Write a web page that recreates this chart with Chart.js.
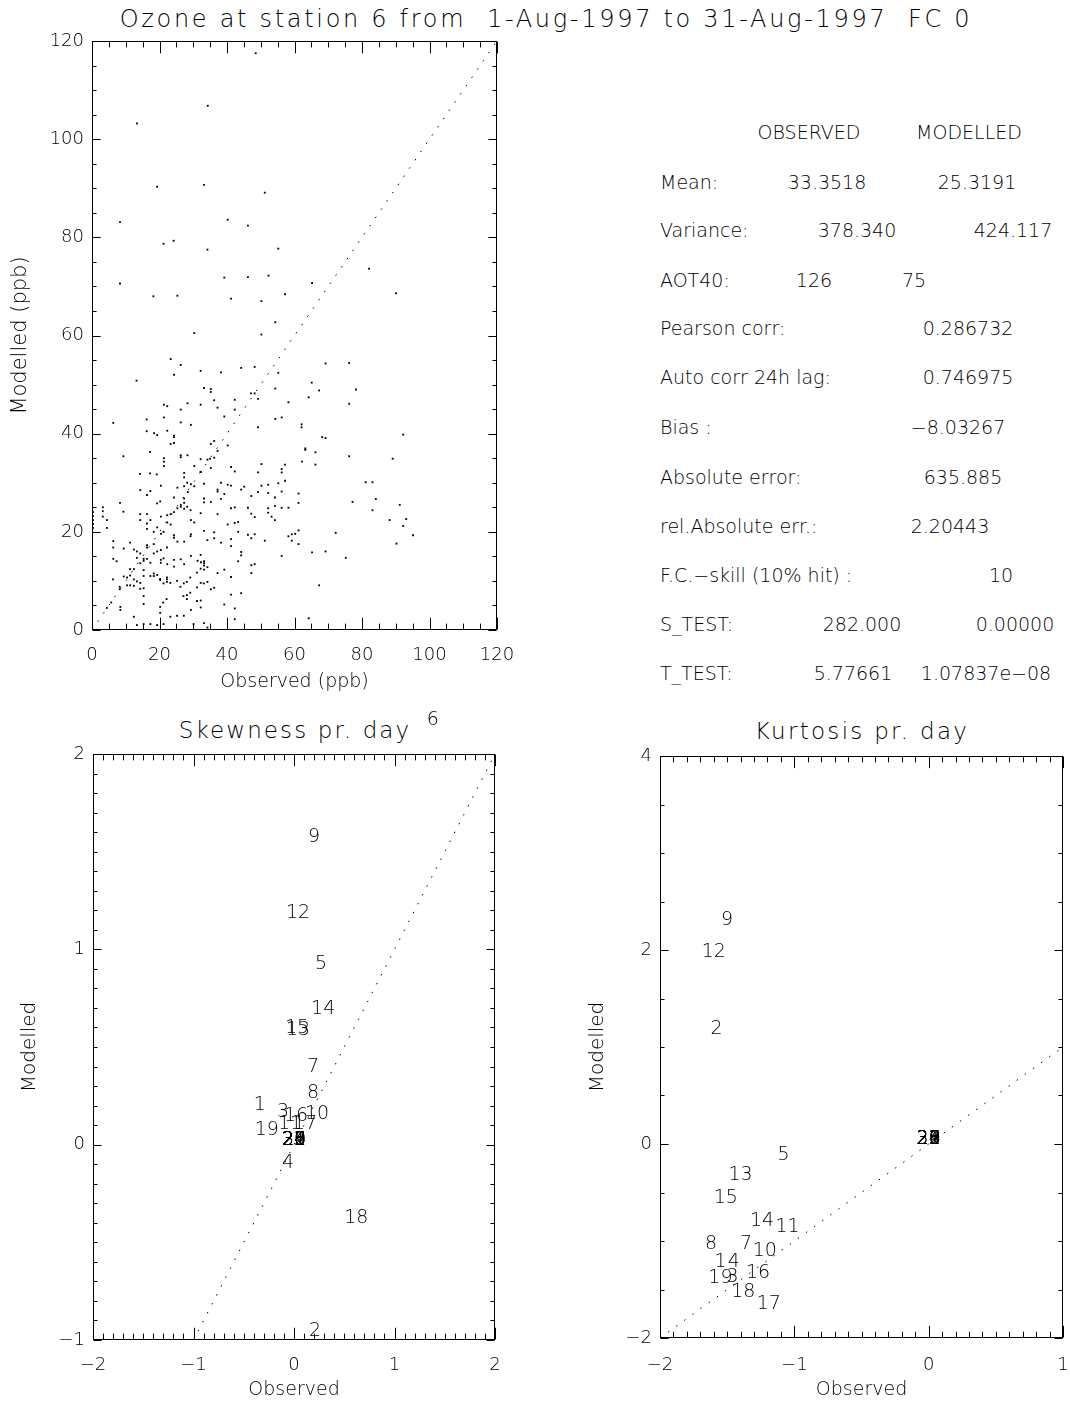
<!DOCTYPE html>
<html>
<head>
<meta charset="utf-8">
<script src="https://cdn.jsdelivr.net/npm/chart.js@4.4.0/dist/chart.umd.min.js"></script>
<style>
  body { margin: 0; background: #fff; width: 1070px; height: 1401px; position: relative; overflow: hidden;
         font-family: "DejaVu Sans", sans-serif; font-weight: 200; color: #000; }
  canvas { position: absolute; }
  .c { position: absolute; white-space: pre; line-height: 1; transform: translate(-50%, -50%); }
  .l { position: absolute; white-space: pre; line-height: 1; transform: translateY(-50%); }
</style>
</head>
<body>
<div class="c" id="mainTitle" style="left:546px;top:19px;font-size:24px;letter-spacing:2.7px">Ozone at station 6 from  1-Aug-1997 to 31-Aug-1997  FC 0</div>
<div class="c" style="left:295px;top:730px;font-size:23px;letter-spacing:2.1px">Skewness pr. day</div>
<div class="c" style="left:862px;top:731px;font-size:23px;letter-spacing:2.3px">Kurtosis pr. day</div>
<div id="stats"></div>

<canvas id="scatterChart" width="540" height="700" style="left:0;top:0"></canvas>
<canvas id="skewChart" width="540" height="701" style="left:0;top:700px"></canvas>
<canvas id="kurtChart" width="560" height="701" style="left:540px;top:700px"></canvas>

<script>
// hourly ozone, observed vs modelled (ppb)
const observedPpb = [
  48.5, 13.3, 34.3, 19.3, 33.2, 51.2, 8.3, 40.2, 46.2, 21.2, 24.2, 34.2, 55.2, 82.1, 8.3, 39.2, 46.2, 52.3, 65.2, 18.2,
  25.3, 41.2, 57.2, 50.2, 90.1, 54.3,
  30.3, 23.3, 26.3, 32.2, 24.3, 13.2, 33.2, 21.3, 22.3, 28.3, 32.2, 26.3, 16.2, 21.3, 6.3, 26.3, 29.3, 16.2, 18.4, 19.3,
  22.3, 24.3, 24.3, 24.3, 23.3, 17.2, 9.3, 21.3, 21.3, 26.3, 26.3, 28.3, 32.2, 21.3, 30.3, 14.2, 17.2, 19.2, 27.3, 32.2,
  50.2, 38.2, 44.2, 48.2, 55.2, 65.1, 67.3, 35.2, 35.2, 47.1, 48.2, 54.3, 64.2, 36.2, 42.3, 49.2, 58.2, 37.2, 42.3, 39.2,
  54.3, 56.2, 49.2, 62.1, 62.1, 36.2, 35.2, 40.2, 37.2, 36.2, 34.2, 35.0, 35.2, 41.2, 42.3, 49.2, 50.2, 56.2, 56.2, 57.2,
  62.2, 63.2, 63.2, 66.2, 66.2,
  69.2, 76.2, 78.2, 76.2, 92.2, 68.2, 69.2, 76.2, 89.1,
  81.1, 83.1, 84.1, 77.2, 91.2, 83.1, 88.2, 93.1, 92.2, 72.2, 95.1, 90.2, 69.2, 75.2, 67.3,
  32.2, 33.2, 38.2, 40.2, 41.2, 45.1, 50.2, 52.2, 55.2, 57.2,
  37.2, 37.2, 39.2, 44.2, 49.2, 52.2, 56.2, 61.2, 33.2, 33.2,
  35.2, 38.2, 47.2, 54.2, 61.2, 32.2, 37.2, 41.2, 42.3, 46.2,
  47.2, 48.2, 52.2, 52.2, 54.2, 56.2, 58.2, 53.2, 54.2, 40.2,
  42.3, 43.3, 33.2, 36.2, 43.3, 46.2, 48.2, 47.2, 36.2, 34.2,
  41.2, 38.2, 51.2, 58.2, 59.2, 60.2, 61.2, 59.2, 61.2, 41.2,
  44.2, 44.2, 32.2, 43.3, 47.2, 48.2, 56.2, 33.2, 33.2, 33.2,
  34.2, 32.2, 33.2, 39.2, 37.2, 47.2, 41.2, 65.2, 32.2, 34.2,
  35.2, 36.2, 41.2, 44.2, 32.2, 32.2, 39.2, 42.3, 42.3, 33.2,
  34.2, 64.2,
  27.3, 28.2, 29.3, 30.3, 14.3, 17.3, 16.3, 20.4, 25.3, 27.3,
  28.4, 24.3, 27.3, 8.3, 19.3, 20.2, 3.2, 3.2, 3.2, 4.4,
  4.4, 9.3, 14.3, 16.3, 14.3, 16.3, 17.3, 20.4, 22.3, 23.3,
  24.3, 25.3, 26.3, 27.3, 26.3, 27.3, 28.2, 29.2, 29.3, 30.3,
  19.3, 18.3, 16.3, 21.2, 20.4, 23.3, 22.3, 24.3, 24.3, 29.3,
  25.3, 27.3, 29.2, 6.3, 6.3, 7.3, 6.3, 11.3, 9.4, 12.4,
  13.3, 14.3, 13.3, 15.3, 16.3, 16.3, 18.3, 16.3, 14.3, 18.3,
  19.3, 20.4, 21.2, 22.2, 15.3, 17.3, 15.3, 12.4, 11.3, 20.4,
  20.4, 22.3, 24.3, 26.3, 24.3, 27.3, 29.3, 31.3, 32.3, 9.4,
  10.4, 11.3, 12.4, 13.3, 14.3, 15.3, 17.3, 19.3, 20.2, 22.2,
  6.2, 8.2, 8.2, 10.4, 11.3, 12.4, 14.3, 15.3, 15.3, 18.3,
  18.3, 20.2, 21.2, 22.2, 22.2, 23.2, 25.2, 26.2, 27.2, 28.1,
  29.1, 31.1, 33.1, 31.1, 28.1, 29.1, 22.1, 21.1, 20.2, 15.3,
  8.4, 8.4, 4.4, 5.7, 27.1, 28.1, 25.2, 23.2, 20.2, 31.1,
  12.4, 13.3, 17.3, 19.3, 15.3, 21.2, 30.1, 27.2, 29.3, 0.3,
  0.3, 0.3, 0.3, 0.3
];
const modelledPpb = [
  117.5, 103.2, 106.8, 90.3, 90.7, 89.1, 83.1, 83.6, 82.4, 78.7, 79.3, 77.5, 77.7, 73.6, 70.6, 71.8, 71.9, 72.2, 70.7, 68.0,
  68.1, 67.5, 68.4, 67.0, 68.6, 62.7,
  60.5, 55.2, 54.0, 52.8, 52.0, 50.8, 49.3, 45.9, 45.6, 46.2, 45.9, 44.9, 42.9, 43.3, 42.2, 42.3, 41.8, 40.5, 40.1, 39.7,
  40.6, 39.6, 39.3, 38.1, 37.9, 36.3, 35.4, 35.0, 34.3, 35.6, 35.2, 35.6, 34.8, 33.4, 33.4, 31.8, 31.9, 31.7, 32.0, 32.2,
  60.2, 52.5, 53.4, 53.6, 52.4, 50.4, 48.8, 49.1, 48.5, 48.2, 48.2, 49.2, 47.4, 46.8, 46.9, 47.1, 46.4, 45.3, 44.9, 43.5,
  43.0, 43.3, 41.3, 41.9, 41.3, 38.5, 37.9, 37.6, 36.5, 35.1, 34.7, 34.9, 33.0, 33.2, 32.3, 32.1, 33.8, 32.8, 32.1, 33.7,
  34.3, 37.0, 36.7, 36.2, 33.7,
  54.3, 54.4, 49.0, 46.1, 39.8, 39.3, 39.1, 35.4, 34.9,
  30.1, 30.1, 26.7, 26.1, 25.5, 24.4, 22.4, 22.6, 21.2, 19.8, 19.3, 17.6, 16.0, 14.7, 9.1,
  32.2, 29.8, 30.0, 29.6, 29.4, 29.2, 29.4, 29.6, 29.9, 30.4,
  28.6, 28.2, 27.7, 28.6, 28.1, 27.9, 28.2, 27.8, 26.8, 26.0,
  26.1, 26.7, 27.3, 27.0, 25.9, 23.8, 23.6, 24.8, 25.0, 24.9,
  23.7, 23.0, 24.8, 23.9, 25.3, 24.9, 24.9, 23.1, 22.4, 21.5,
  21.8, 22.0, 20.2, 19.9, 20.0, 19.4, 19.5, 18.7, 18.7, 18.3,
  18.5, 17.8, 18.2, 19.1, 19.5, 19.6, 20.3, 18.2, 17.5, 17.1,
  15.9, 15.2, 15.3, 14.0, 13.2, 13.4, 15.1, 14.0, 13.6, 13.1,
  12.8, 12.5, 12.3, 12.3, 11.6, 11.6, 10.8, 15.8, 9.6, 9.8,
  8.3, 8.6, 7.2, 7.5, 6.0, 4.6, 5.2, 4.4, 2.2, 1.4,
  0.5, 2.4,
  31.1, 30.0, 29.7, 29.3, 28.5, 28.3, 27.5, 29.4, 29.0, 29.3,
  28.1, 27.0, 26.8, 25.9, 25.8, 26.2, 25.0, 24.2, 23.1, 22.4,
  20.8, 24.1, 23.6, 23.6, 22.4, 21.7, 22.4, 23.1, 23.4, 23.6,
  24.0, 24.8, 25.5, 25.9, 25.1, 24.7, 25.1, 24.4, 22.4, 21.9,
  20.9, 20.0, 20.6, 20.0, 19.6, 21.5, 21.9, 19.3, 18.8, 19.5,
  18.0, 18.0, 19.1, 18.1, 16.8, 14.0, 14.5, 17.8, 16.6, 16.4,
  16.0, 15.6, 14.7, 14.5, 17.3, 16.8, 17.5, 14.5, 13.6, 15.6,
  16.0, 16.3, 14.6, 16.8, 14.1, 13.7, 12.2, 12.4, 12.4, 14.3,
  13.7, 13.4, 14.3, 14.4, 12.9, 13.4, 15.1, 14.1, 13.8, 10.9,
  10.7, 11.1, 10.3, 9.9, 9.6, 11.0, 11.0, 11.2, 10.4, 10.3,
  10.3, 8.8, 8.3, 9.1, 9.1, 9.0, 8.4, 8.5, 6.9, 11.5,
  11.0, 10.2, 9.5, 10.7, 9.8, 9.6, 10.0, 8.8, 9.5, 9.8,
  10.7, 11.7, 9.5, 8.7, 7.1, 7.6, 6.3, 5.6, 4.7, 5.3,
  4.7, 4.1, 4.5, 5.6, 6.9, 6.3, 2.9, 2.7, 3.5, 5.9,
  2.7, 1.0, 1.2, 1.0, 1.2, 1.2, 1.2, 2.9, 4.1, 24.0,
  23.2, 22.4, 21.6, 20.8
];

// daily statistics, day of month
const days = [1, 2, 3, 4, 5, 6, 7, 8, 9, 10, 11, 12, 13, 14, 15, 16, 17, 18, 19, 20,
              21, 22, 23, 24, 25, 26, 27, 28, 29, 30, 31];
const skewObserved = [-0.34, 0.21, -0.11, -0.06, 0.27, 1.38, 0.19, 0.19, 0.20, 0.23, -0.04, 0.04, 0.04, 0.29, 0.03, 0.02,
                      0.11, 0.62, -0.27, 0, 0, 0, 0, 0, 0, 0, 0, 0, 0, 0, 0];
const skewModelled = [0.18, -0.98, 0.14, -0.12, 0.90, 2.15, 0.37, 0.24, 1.55, 0.13, 0.08, 1.16, 0.56, 0.67, 0.57, 0.12,
                      0.08, -0.40, 0.05, 0, 0, 0, 0, 0, 0, 0, 0, 0, 0, 0, 0];
const kurtObserved = [-1.55, -1.58, -1.46, -1.45, -1.08, null, -1.36, -1.62, -1.50, -1.22, -1.05, -1.60, -1.40, -1.24,
                      -1.51, -1.27, -1.19, -1.38, -1.55, 0, 0, 0, 0, 0, 0, 0, 0, 0, 0, 0, 0];
const kurtModelled = [-1.27, 1.13, -1.42, -1.27, -0.16, null, -1.08, -1.08, 2.26, -1.15, -0.91, 1.93, -0.37, -0.85,
                      -0.61, -1.38, -1.70, -1.58, -1.43, 0, 0, 0, 0, 0, 0, 0, 0, 0, 0, 0, 0];

// end points of the 1:1 lines
const unityScatter = [0, 120];
const unitySkew = [-1, 2];
const unityKurt = [-2, 1];

// summary table
const statHeaders = ['OBSERVED', 'MODELLED'];
const statNames = ['Mean:', 'Variance:', 'AOT40:', 'Pearson corr:', 'Auto corr 24h lag:', 'Bias :', 'Absolute error:',
                   'rel.Absolute err.:', 'F.C.\u2212skill (10% hit) :', 'S_TEST:', 'T_TEST:'];
const statFirst = ['33.3518', '378.340', '126', '0.286732', '0.746975', '\u22128.03267', '635.885', '2.20443', '10',
                   '282.000', '5.77661'];
const statSecond = ['25.3191', '424.117', '75', '', '', '', '', '', '', '0.00000', '1.07837e\u221208'];

// --- table layout ---
const rowY = [182, 230, 280, 328, 377, 427, 477, 526, 575, 624, 673];
const firstX = [827, 857, 814, 968, 968, 958, 963, 950, 1001, 862, 853];
const secondX = [977, 1013, 914, 0, 0, 0, 0, 0, 0, 1015, 986];
const stats = document.getElementById('stats');
function addText(cls, txt, x, y) {
  const d = document.createElement('div');
  d.className = cls;
  d.textContent = txt;
  d.style.left = x + 'px';
  d.style.top = y + 'px';
  d.style.fontSize = '19px';
  stats.appendChild(d);
}
addText('c', statHeaders[0], 809, 132);
addText('c', statHeaders[1], 969, 132);
statNames.forEach((name, i) => {
  addText('l', name, 660, rowY[i]);
  addText('c', statFirst[i], firstX[i], rowY[i]);
  if (statSecond[i]) addText('c', statSecond[i], secondX[i], rowY[i]);
});

// --- chart helpers ---
Chart.defaults.font.family = '"DejaVu Sans", sans-serif';
Chart.defaults.font.size = 18;
Chart.defaults.font.weight = '200';
Chart.defaults.color = '#000';

// box with inward major/minor ticks on all four sides
const framePlugin = {
  id: 'frame',
  afterDraw(chart, args, opts) {
    const { ctx, chartArea: a, scales: { x, y } } = chart;
    const L = Math.round(a.left) + 0.5, R = Math.round(a.right) - 0.5;
    const T = Math.round(a.top) + 0.5, B = Math.round(a.bottom) - 0.5;
    const lenX = 0.02 * (a.bottom - a.top), lenY = 0.02 * (a.right - a.left);
    ctx.save();
    ctx.strokeStyle = '#000';
    ctx.lineWidth = 1;
    ctx.strokeRect(L, T, R - L, B - T);
    ctx.beginPath();
    const nx = Math.round((x.max - x.min) / opts.minorX);
    for (let i = 0; i <= nx; i++) {
      const v = x.min + i * opts.minorX;
      const len = (i % opts.perMajorX === 0) ? lenX : lenX / 2;
      const px = Math.round(x.getPixelForValue(v)) + 0.5;
      ctx.moveTo(px, B); ctx.lineTo(px, B - len);
      ctx.moveTo(px, T); ctx.lineTo(px, T + len);
    }
    const ny = Math.round((y.max - y.min) / opts.minorY);
    for (let i = 0; i <= ny; i++) {
      const v = y.min + i * opts.minorY;
      const len = (i % opts.perMajorY === 0) ? lenY : lenY / 2;
      const py = Math.round(y.getPixelForValue(v)) + 0.5;
      ctx.moveTo(L, py); ctx.lineTo(L + len, py);
      ctx.moveTo(R, py); ctx.lineTo(R - len, py);
    }
    ctx.stroke();
    ctx.restore();
  }
};

// day numbers written at each point (baseline on the value)
const dayLabelPlugin = {
  id: 'dayLabels',
  afterDatasetsDraw(chart) {
    const ctx = chart.ctx;
    chart.data.datasets.forEach((ds, i) => {
      if (!ds.dayLabels) return;
      const meta = chart.getDatasetMeta(i);
      ctx.save();
      ctx.font = '200 19px "DejaVu Sans", sans-serif';
      ctx.fillStyle = '#000';
      ctx.textAlign = 'center';
      ctx.textBaseline = 'alphabetic';
      meta.data.forEach((pt, j) => {
        if (pt.skip || ds.data[j].y === null) return;
        ctx.fillText(String(ds.dayLabels[j]), pt.x, pt.y);
      });
      ctx.restore();
    });
  }
};

function axis(min, max, step, title, size, tickPad, titlePad, titleSize) {
  return {
    type: 'linear', min, max,
    ticks: { stepSize: step, autoSkip: false, maxRotation: 0, padding: tickPad, color: '#000',
             callback: v => String(v).replace('-', '\u2212') },
    grid: { display: false, drawTicks: false },
    border: { display: false },
    title: { display: true, text: title, color: '#000', padding: titlePad, font: { size: titleSize } },
    afterFit: s => { if (s.isHorizontal()) s.height = size; else s.width = size; }
  };
}

function unityLine(ends) {
  return {
    type: 'line',
    data: ends.map(v => ({ x: v, y: v })),
    borderColor: '#000', borderWidth: 1, borderDash: [1.5, 8.5],
    pointRadius: 0, showLine: true, fill: false
  };
}

const baseOptions = {
  responsive: false, animation: false, devicePixelRatio: 1,
  plugins: { legend: { display: false }, tooltip: { enabled: false } }
};

// top-left: scatter of all hours
new Chart(document.getElementById('scatterChart'), {
  type: 'scatter',
  data: {
    datasets: [
      {
        data: observedPpb.map((v, i) => ({ x: v, y: modelledPpb[i] })),
        backgroundColor: '#000', borderWidth: 0, pointStyle: 'rect', pointRadius: 1.3
      },
      unityLine(unityScatter)
    ]
  },
  options: {
    ...baseOptions,
    layout: { padding: { top: 41, right: 43, left: 0, bottom: 0 } },
    scales: {
      x: axis(0, 120, 20, 'Observed (ppb)', 70, 15, { top: 0, bottom: 7 }, 19),
      y: axis(0, 120, 20, 'Modelled (ppb)', 92, 8, { top: 8, bottom: 0 }, 21)
    },
    plugins: { ...baseOptions.plugins, frame: { minorX: 5, perMajorX: 4, minorY: 5, perMajorY: 4 } }
  },
  plugins: [framePlugin]
});

// bottom-left: skewness per day
new Chart(document.getElementById('skewChart'), {
  type: 'scatter',
  data: {
    datasets: [
      {
        data: skewObserved.map((v, i) => ({ x: v, y: skewModelled[i] })),
        dayLabels: days, pointRadius: 0, clip: false
      },
      unityLine(unitySkew)
    ]
  },
  options: {
    ...baseOptions,
    layout: { padding: { top: 54, right: 45, left: 0, bottom: 0 } },
    scales: {
      x: axis(-2, 2, 1, 'Observed', 61, 15, { top: 0, bottom: 0 }, 19),
      y: axis(-1, 2, 1, 'Modelled', 93, 8, { top: 18, bottom: 0 }, 20)
    },
    plugins: { ...baseOptions.plugins, frame: { minorX: 0.1, perMajorX: 10, minorY: 0.1, perMajorY: 10 } }
  },
  plugins: [framePlugin, dayLabelPlugin]
});

// bottom-right: kurtosis per day
new Chart(document.getElementById('kurtChart'), {
  type: 'scatter',
  data: {
    datasets: [
      {
        data: kurtObserved.map((v, i) => ({ x: v, y: kurtModelled[i] })),
        dayLabels: days, pointRadius: 0, clip: false
      },
      unityLine(unityKurt)
    ]
  },
  options: {
    ...baseOptions,
    layout: { padding: { top: 56, right: 37, left: 0, bottom: 0 } },
    scales: {
      x: axis(-2, 1, 1, 'Observed', 63, 17, { top: 0, bottom: 0 }, 19),
      y: axis(-2, 4, 2, 'Modelled', 120, 8, { top: 46, bottom: 0 }, 20)
    },
    plugins: { ...baseOptions.plugins, frame: { minorX: 0.1, perMajorX: 10, minorY: 0.5, perMajorY: 4 } }
  },
  plugins: [framePlugin, dayLabelPlugin]
});
</script>
</body>
</html>
